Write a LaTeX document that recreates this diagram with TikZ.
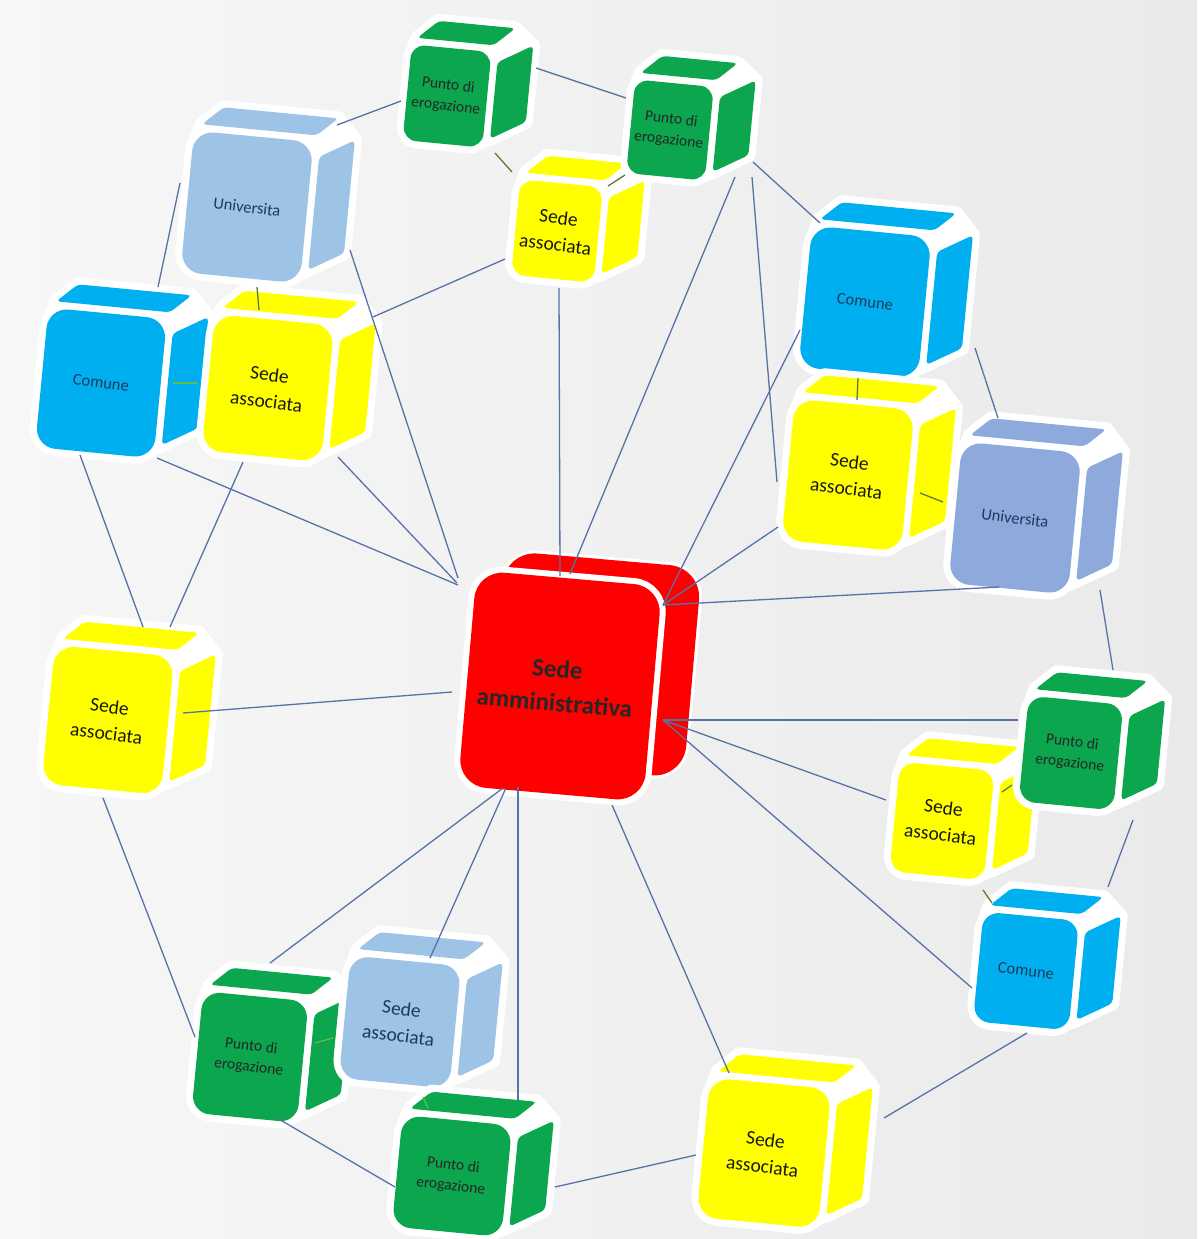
\documentclass[tikz,border=0pt]{standalone}
\usepackage{fontspec}
\setmainfont{Carlito}
\definecolor{cYel}{HTML}{FFFF00}
\definecolor{cGrn}{HTML}{0BA64E}
\definecolor{cCom}{HTML}{00AFEF}
\definecolor{cUni}{HTML}{9DC3E6}
\definecolor{cUniB}{HTML}{8EA9DB}
\definecolor{cRed}{HTML}{FF0000}
\definecolor{cLine}{HTML}{5673A8}
\definecolor{cOlive}{HTML}{5E7A3A}
\definecolor{cLGrn}{HTML}{62BE48}
\definecolor{cTxtB}{HTML}{1B3A5E}
\definecolor{bgL}{HTML}{F7F7F7}
\definecolor{bgR}{HTML}{EAEAEA}

\newcommand{\drawcube}[8]{%
  \begin{scope}[shift={(#2,#3)},rotate=-5.5]
    \pgfmathsetmacro\cubA{#4/2}%
    \pgfmathsetmacro\cubB{#5/2}%
    \pgfmathsetmacro\cubR{0.17*#4}%
    \pgfmathsetmacro\cubL{-\cubA+0.06*#4}%
    \pgfmathsetmacro\cubRt{\cubA+0.02*#4}%
    \pgfmathsetmacro\cubT{-\cubB+0.1*#5}%
    \pgfmathsetmacro\cubBt{\cubB-0.1*#5}%
    \path[halo] (-\cubA,-\cubB+\cubR) -- (\cubL,-\cubB-7) -- (\cubL+20,-\cubB-26)
      -- (\cubRt+20,-\cubB-26) -- (\cubA+41,\cubT-20) -- (\cubA+41,\cubBt-20)
      -- (\cubA+7,\cubBt) -- (\cubA-\cubR,\cubB) -- (-\cubA+\cubR,\cubB)
      -- (-\cubA,\cubB-\cubR) -- cycle;
    \path[draw=white,line width=14pt,rounded corners=\cubR] (-\cubA,-\cubB) rectangle (\cubA,\cubB);
    \path[fill=#6,rounded corners=4pt] (\cubL,-\cubB-7) -- (\cubRt,-\cubB-7)
      -- (\cubRt+20,-\cubB-26) -- (\cubL+20,-\cubB-26) -- cycle;
    \path[fill=#6,rounded corners=4pt] (\cubA+7,\cubT) -- (\cubA+41,\cubT-20)
      -- (\cubA+41,\cubBt-20) -- (\cubA+7,\cubBt) -- cycle;
    \path[fill=#6,rounded corners=\cubR] (-\cubA,-\cubB) rectangle (\cubA,\cubB);
    \node[#7] (#1) at (0,0) {#8};
  \end{scope}}

\begin{document}
\begin{tikzpicture}[x=1pt,y=-1pt,
  halo/.style={fill=white,draw=white,line width=14pt,line join=round},
  conn/.style={draw=cLine,line width=1.3pt},
  shortc/.style={draw=cOlive,line width=1.3pt},
  shortg/.style={draw=cLGrn,line width=1.3pt},
  lbl/.style={align=center,rotate=-7,inner sep=0pt},
  lblpe/.style={lbl,font=\fontsize{15.5}{21}\selectfont,text=black!85},
  lblsa/.style={lbl,font=\fontsize{19.5}{27}\selectfont,text=black!90},
  lblsab/.style={lbl,font=\fontsize{19.5}{27}\selectfont,text=cTxtB},
  lblcm/.style={lbl,font=\fontsize{16.5}{20}\selectfont,text=cTxtB},
  lblred/.style={align=center,rotate=-5,inner sep=0pt,font=\fontsize{25}{34}\selectfont\bfseries,text=black!85},
]
\useasboundingbox (0,0) rectangle (1197,1239);
\fill[left color=bgL,right color=bgR] (0,0) rectangle (1197,1239);

% cubes, back to front
\drawcube{univ1}{247}{207}{120}{142}{cUni}{lblcm}{Universita}
\drawcube{com1}{101}{383}{119}{140}{cCom}{lblcm}{Comune}
\drawcube{sa2}{268}{388}{120}{137}{cYel}{lblsa}{Sede\\associata}
\drawcube{pe1}{447}{96}{80}{96}{cGrn}{lblpe}{Punto di\\erogazione}
\drawcube{sa1}{557}{231}{83}{96}{cYel}{lblsa}{Sede\\associata}
\drawcube{pe2}{670}{130}{79}{94}{cGrn}{lblpe}{Punto di\\erogazione}
\drawcube{com2}{865}{302}{120}{142}{cCom}{lblcm}{Comune}
\drawcube{sa3}{848}{475}{120}{142}{cYel}{lblsa}{Sede\\associata}
\drawcube{univ2}{1015}{518}{120}{142}{cUniB}{lblcm}{Universita}

% central red block
\begin{scope}[shift={(560,686)},rotate=-5]
  \path[fill=white,draw=white,line width=6pt,rounded corners=32] (-66,-130) rectangle (131,81);
  \path[fill=cRed,rounded corners=32] (-66,-130) rectangle (131,81);
  \path[draw=white,line width=12pt,rounded corners=28] (-93,-108) rectangle (93,108);
  \path[fill=cRed,rounded corners=28] (-93,-108) rectangle (93,108);
  \node[lblred] (sam) at (-4,0) {Sede\\amministrativa};
\end{scope}

\drawcube{sa4}{108}{720}{120}{139}{cYel}{lblsa}{Sede\\associata}
\drawcube{sa5}{942}{821}{95}{110}{cYel}{lblsa}{Sede\\associata}
\drawcube{pe3}{1071}{753}{95}{106}{cGrn}{lblpe}{Punto di\\erogazione}
\drawcube{com3}{1026}{971}{96}{110}{cCom}{lblcm}{Comune}
\drawcube{pe4}{250}{1057}{106}{122}{cGrn}{lblpe}{Punto di\\erogazione}
\drawcube{sa6}{400}{1022}{111}{123}{cUni}{lblsab}{Sede\\associata}
\drawcube{pe5}{452}{1176}{110}{112}{cGrn}{lblpe}{Punto di\\erogazione}
\drawcube{sa7}{764}{1153}{122}{140}{cYel}{lblsa}{Sede\\associata}

% connector end points
\coordinate (h1) at (663,605);
\coordinate (h2) at (663,720);
\coordinate (e1a) at (337,125);  \coordinate (e1b) at (401,101);
\coordinate (e2a) at (536,68);   \coordinate (e2b) at (626,98);
\coordinate (e3a) at (753,162);  \coordinate (e3b) at (820,223);
\coordinate (e4a) at (735,177);  \coordinate (e4b) at (570,574);
\coordinate (e5a) at (752,177);  \coordinate (e5b) at (777,482);
\coordinate (e6a) at (559,288);  \coordinate (e6b) at (560,576);
\coordinate (e7a) at (505,259);  \coordinate (e7b) at (373,317);
\coordinate (e8a) at (180,183);  \coordinate (e8b) at (158,287);
\coordinate (e9a) at (350,250);  \coordinate (e9b) at (458,578);
\coordinate (e10a) at (157,458); \coordinate (e10b) at (458,585);
\coordinate (e11a) at (338,457); \coordinate (e11b) at (457,583);
\coordinate (e12a) at (80,455);  \coordinate (e12b) at (143,627);
\coordinate (e13a) at (243,462); \coordinate (e13b) at (170,627);
\coordinate (e14a) at (183,713); \coordinate (e14b) at (452,692);
\coordinate (e15a) at (103,798); \coordinate (e15b) at (195,1037);
\coordinate (e16a) at (503,788); \coordinate (e16b) at (270,963);
\coordinate (e17a) at (505,790); \coordinate (e17b) at (430,958);
\coordinate (e18a) at (518,787); \coordinate (e18b) at (518,1100);
\coordinate (e19a) at (277,1118);\coordinate (e19b) at (395,1187);
\coordinate (e20a) at (555,1187);\coordinate (e20b) at (696,1155);
\coordinate (e21a) at (612,805); \coordinate (e21b) at (729,1073);
\coordinate (e22a) at (1027,1033);\coordinate (e22b) at (884,1118);
\coordinate (e23b) at (972,988);
\coordinate (e24b) at (886,800);
\coordinate (e25b) at (1018,720);
\coordinate (e26a) at (1133,820);\coordinate (e26b) at (1108,887);
\coordinate (e27a) at (1100,590);\coordinate (e27b) at (1113,670);
\coordinate (e28a) at (999,587);
\coordinate (e29a) at (778,527);
\coordinate (e30a) at (800,330);
\coordinate (e31a) at (975,348); \coordinate (e31b) at (998,418);
\coordinate (s1a) at (495,153);  \coordinate (s1b) at (512,172);
\coordinate (s2a) at (625,175);  \coordinate (s2b) at (608,186);
\coordinate (s3a) at (257,287);  \coordinate (s3b) at (259,310);
\coordinate (s4a) at (173,383);  \coordinate (s4b) at (197,383);
\coordinate (s5a) at (858,378);  \coordinate (s5b) at (857,400);
\coordinate (s6a) at (920,493);  \coordinate (s6b) at (943,502);
\coordinate (s7a) at (1002,792); \coordinate (s7b) at (1012,785);
\coordinate (s8a) at (983,890);  \coordinate (s8b) at (992,903);
\coordinate (s9a) at (315,1043); \coordinate (s9b) at (333,1038);
\coordinate (s10a) at (423,1097);\coordinate (s10b) at (428,1108);

% connectors
\draw[conn] (e1a) -- (e1b);
\draw[conn] (e2a) -- (e2b);
\draw[conn] (e3a) -- (e3b);
\draw[conn] (e4a) -- (e4b);
\draw[conn] (e5a) -- (e5b);
\draw[conn] (e6a) -- (e6b);
\draw[conn] (e7a) -- (e7b);
\draw[conn] (e8a) -- (e8b);
\draw[conn] (e9a) -- (e9b);
\draw[conn] (e10a) -- (e10b);
\draw[conn] (e11a) -- (e11b);
\draw[conn] (e12a) -- (e12b);
\draw[conn] (e13a) -- (e13b);
\draw[conn] (e14a) -- (e14b);
\draw[conn] (e15a) -- (e15b);
\draw[conn] (e16a) -- (e16b);
\draw[conn] (e17a) -- (e17b);
\draw[conn] (e18a) -- (e18b);
\draw[conn] (e19a) -- (e19b);
\draw[conn] (e20a) -- (e20b);
\draw[conn] (e21a) -- (e21b);
\draw[conn] (e22a) -- (e22b);
\draw[conn] (h2) -- (e23b);
\draw[conn] (h2) -- (e24b);
\draw[conn] (h2) -- (e25b);
\draw[conn] (e26a) -- (e26b);
\draw[conn] (e27a) -- (e27b);
\draw[conn] (e28a) -- (h1);
\draw[conn] (e29a) -- (h1);
\draw[conn] (e30a) -- (h1);
\draw[conn] (e31a) -- (e31b);
\draw[shortc] (s1a) -- (s1b);
\draw[shortc] (s2a) -- (s2b);
\draw[shortc] (s3a) -- (s3b);
\draw[shortg] (s4a) -- (s4b);
\draw[shortc] (s5a) -- (s5b);
\draw[shortc] (s6a) -- (s6b);
\draw[shortc] (s7a) -- (s7b);
\draw[shortc] (s8a) -- (s8b);
\draw[shortg] (s9a) -- (s9b);
\draw[shortg] (s10a) -- (s10b);
\end{tikzpicture}
\end{document}
